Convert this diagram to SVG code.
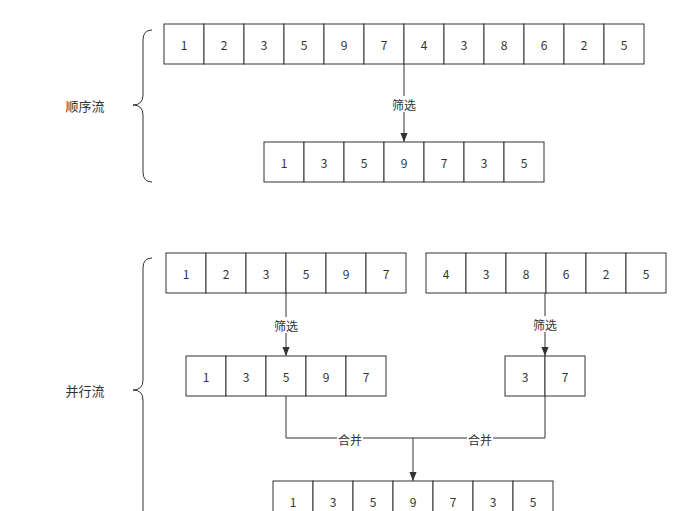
<svg xmlns="http://www.w3.org/2000/svg" width="690" height="511" viewBox="0 0 690 511">
<defs>
<style>
.c{fill:#fff;stroke:#333;stroke-width:1}
.t{font-family:"Noto Sans CJK SC","Liberation Sans",sans-serif;font-size:12px;fill:#333;text-anchor:middle;dominant-baseline:central}
.l{font-family:"Noto Sans CJK SC","Liberation Sans",sans-serif;font-size:13px;fill:#333;text-anchor:middle;dominant-baseline:central}
.e{fill:none;stroke:#333;stroke-width:1}
.b{fill:none;stroke:#333;stroke-width:1}
.lb{fill:#fff}
</style>
<marker id="ar" viewBox="0 0 10 10" refX="10" refY="5" markerWidth="9" markerHeight="9" markerUnits="userSpaceOnUse" orient="auto"><path d="M0,1 L10,5 L0,9 Z" fill="#333"/></marker>
</defs>
<rect width="690" height="511" fill="#fff"/>

<g id="brace1"><path class="b" d="M152,30 Q143,30 143,40 L143,95 Q143,105 133,105 Q143,105 143,115 L143,172 Q143,182 152,182"/></g>
<g id="label-seq"><text class="l" x="85" y="105">顺序流</text></g>
<g id="brace2"><path class="b" d="M152,258 Q143,258 143,268 L143,380 Q143,390 133,390 Q143,390 143,400 L143,512 Q143,522 152,522"/></g>
<g id="label-par"><text class="l" x="85" y="390">并行流</text></g>

<g id="edges">
<line class="e" x1="404" y1="64" x2="404" y2="142" marker-end="url(#ar)"/>
<rect class="lb" x="391" y="96" width="26" height="16"/>
<text class="t" x="404" y="104">筛选</text>
<line class="e" x1="286" y1="293" x2="286" y2="356" marker-end="url(#ar)"/>
<rect class="lb" x="273" y="317" width="26" height="16"/>
<text class="t" x="286" y="325">筛选</text>
<line class="e" x1="545" y1="293" x2="545" y2="356" marker-end="url(#ar)"/>
<rect class="lb" x="532" y="316" width="26" height="16"/>
<text class="t" x="545" y="324">筛选</text>
<path class="e" d="M286,396 L286,438 L413,438"/>
<path class="e" d="M545,396 L545,438 L413,438"/>
<line class="e" x1="413" y1="438" x2="413" y2="481" marker-end="url(#ar)"/>
<rect class="lb" x="337" y="431" width="26" height="16"/>
<text class="t" x="350" y="439">合并</text>
<rect class="lb" x="467" y="431" width="26" height="16"/>
<text class="t" x="480" y="439">合并</text>
</g>

<g id="row1">
<rect class="c" x="164" y="24" width="40" height="40"/><text class="t" x="184" y="44">1</text>
<rect class="c" x="204" y="24" width="40" height="40"/><text class="t" x="224" y="44">2</text>
<rect class="c" x="244" y="24" width="40" height="40"/><text class="t" x="264" y="44">3</text>
<rect class="c" x="284" y="24" width="40" height="40"/><text class="t" x="304" y="44">5</text>
<rect class="c" x="324" y="24" width="40" height="40"/><text class="t" x="344" y="44">9</text>
<rect class="c" x="364" y="24" width="40" height="40"/><text class="t" x="384" y="44">7</text>
<rect class="c" x="404" y="24" width="40" height="40"/><text class="t" x="424" y="44">4</text>
<rect class="c" x="444" y="24" width="40" height="40"/><text class="t" x="464" y="44">3</text>
<rect class="c" x="484" y="24" width="40" height="40"/><text class="t" x="504" y="44">8</text>
<rect class="c" x="524" y="24" width="40" height="40"/><text class="t" x="544" y="44">6</text>
<rect class="c" x="564" y="24" width="40" height="40"/><text class="t" x="584" y="44">2</text>
<rect class="c" x="604" y="24" width="40" height="40"/><text class="t" x="624" y="44">5</text>
</g>

<g id="row2">
<rect class="c" x="264" y="142" width="40" height="40"/><text class="t" x="284" y="162">1</text>
<rect class="c" x="304" y="142" width="40" height="40"/><text class="t" x="324" y="162">3</text>
<rect class="c" x="344" y="142" width="40" height="40"/><text class="t" x="364" y="162">5</text>
<rect class="c" x="384" y="142" width="40" height="40"/><text class="t" x="404" y="162">9</text>
<rect class="c" x="424" y="142" width="40" height="40"/><text class="t" x="444" y="162">7</text>
<rect class="c" x="464" y="142" width="40" height="40"/><text class="t" x="484" y="162">3</text>
<rect class="c" x="504" y="142" width="40" height="40"/><text class="t" x="524" y="162">5</text>
</g>

<g id="row3a">
<rect class="c" x="166" y="253" width="40" height="40"/><text class="t" x="186" y="273">1</text>
<rect class="c" x="206" y="253" width="40" height="40"/><text class="t" x="226" y="273">2</text>
<rect class="c" x="246" y="253" width="40" height="40"/><text class="t" x="266" y="273">3</text>
<rect class="c" x="286" y="253" width="40" height="40"/><text class="t" x="306" y="273">5</text>
<rect class="c" x="326" y="253" width="40" height="40"/><text class="t" x="346" y="273">9</text>
<rect class="c" x="366" y="253" width="40" height="40"/><text class="t" x="386" y="273">7</text>
</g>

<g id="row3b">
<rect class="c" x="426" y="253" width="40" height="40"/><text class="t" x="446" y="273">4</text>
<rect class="c" x="466" y="253" width="40" height="40"/><text class="t" x="486" y="273">3</text>
<rect class="c" x="506" y="253" width="40" height="40"/><text class="t" x="526" y="273">8</text>
<rect class="c" x="546" y="253" width="40" height="40"/><text class="t" x="566" y="273">6</text>
<rect class="c" x="586" y="253" width="40" height="40"/><text class="t" x="606" y="273">2</text>
<rect class="c" x="626" y="253" width="40" height="40"/><text class="t" x="646" y="273">5</text>
</g>

<g id="row4a">
<rect class="c" x="186" y="356" width="40" height="40"/><text class="t" x="206" y="376">1</text>
<rect class="c" x="226" y="356" width="40" height="40"/><text class="t" x="246" y="376">3</text>
<rect class="c" x="266" y="356" width="40" height="40"/><text class="t" x="286" y="376">5</text>
<rect class="c" x="306" y="356" width="40" height="40"/><text class="t" x="326" y="376">9</text>
<rect class="c" x="346" y="356" width="40" height="40"/><text class="t" x="366" y="376">7</text>
</g>

<g id="row4b">
<rect class="c" x="505" y="356" width="40" height="40"/><text class="t" x="525" y="376">3</text>
<rect class="c" x="545" y="356" width="40" height="40"/><text class="t" x="565" y="376">7</text>
</g>

<g id="row5">
<rect class="c" x="273" y="481" width="40" height="40"/><text class="t" x="293" y="501">1</text>
<rect class="c" x="313" y="481" width="40" height="40"/><text class="t" x="333" y="501">3</text>
<rect class="c" x="353" y="481" width="40" height="40"/><text class="t" x="373" y="501">5</text>
<rect class="c" x="393" y="481" width="40" height="40"/><text class="t" x="413" y="501">9</text>
<rect class="c" x="433" y="481" width="40" height="40"/><text class="t" x="453" y="501">7</text>
<rect class="c" x="473" y="481" width="40" height="40"/><text class="t" x="493" y="501">3</text>
<rect class="c" x="513" y="481" width="40" height="40"/><text class="t" x="533" y="501">5</text>
</g>
</svg>
